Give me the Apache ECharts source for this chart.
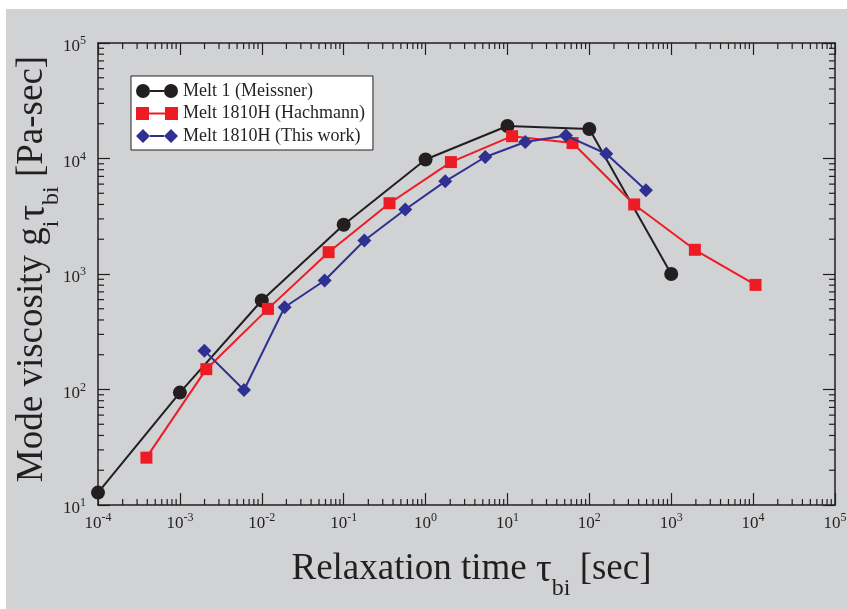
<!DOCTYPE html>
<html>
<head>
<meta charset="utf-8">
<script src="https://cdn.jsdelivr.net/npm/echarts@6/dist/echarts.min.js"></script>
<style>
  html, body { margin: 0; padding: 0; background: #fff; }
  #chart { width: 847px; height: 609px; }
</style>
</head>
<body>
<div id="chart"></div>
<script>
// Melt 1 (Meissner)
const meissnerTau = [1e-4, 1e-3, 1e-2, 1e-1, 1, 10, 100, 1000];
const meissnerG = [12.8, 94, 590, 2670, 9800, 19100, 18000, 1000];

// Melt 1810H (Hachmann)
const hachTau = [3.9e-4, 2.1e-3, 0.0119, 0.0655, 0.363, 2.04, 11.4, 62.4, 353, 1945, 10700];
const hachG = [25.7, 150, 499, 1545, 4100, 9310, 15600, 13600, 4000, 1620, 805];

// Melt 1810H (This work)
const thisTau = [1.99e-3, 6.07e-3, 0.019, 0.0585, 0.179, 0.565, 1.74, 5.36, 16.5, 51.8, 161, 491];
const thisG = [217, 99, 515, 879, 1950, 3620, 6340, 10300, 13900, 15800, 11000, 5300];

const seriesNames = ['Melt 1 (Meissner)', 'Melt 1810H (Hachmann)', 'Melt 1810H (This work)'];

// axis ranges
const xMin = 1e-4, xMax = 1e5;
const yMin = 10, yMax = 1e5;

const serif = 'Liberation Serif';

// minor tick positions 2..9 x 10^k
const minorTicks = function (lo, hi) {
    let out = [];
    for (let e = Math.round(Math.log10(lo)); e < Math.round(Math.log10(hi)); e++) {
        for (let m = 2; m <= 9; m++) out.push(m * Math.pow(10, e));
    }
    return out;
};

const pairUp = function (xs, ys) {
    return xs.map(function (x, i) { return [x, ys[i]]; });
};

const tickLabel = function (v) {
    return '{b|10}{e|' + Math.round(Math.log10(v)) + '}';
};
// superscript raised by padding
const tickRich = {
    b: { fontFamily: serif, fontSize: 17, color: '#231f20', lineHeight: 17, padding: [8, 0, 0, 0] },
    e: { fontFamily: serif, fontSize: 12, color: '#231f20', lineHeight: 12, padding: [0, 0, 4, 0] }
};

const axisBase = {
    type: 'log',
    logBase: 10,
    axisLine: { show: true, onZero: false, lineStyle: { color: '#231f20', width: 1.5 } },
    axisTick: { show: true, inside: true, length: 12, lineStyle: { color: '#231f20', width: 1.2 } },
    splitLine: { show: false },
    minorTick: { show: false }
};

const titleRich = {
    t: { fontFamily: serif, fontSize: 37, color: '#231f20', lineHeight: 40, verticalAlign: 'top' },
    g: { fontFamily: serif, fontSize: 39, color: '#231f20', lineHeight: 40, verticalAlign: 'top' },
    s: { fontFamily: serif, fontSize: 24, color: '#231f20', lineHeight: 24, verticalAlign: 'bottom', padding: [0, 0, -10, 0] }
};

let myChart = echarts.init(document.getElementById('chart'));

const tickStyle = { stroke: '#231f20', lineWidth: 1.2 };

let option = {
    backgroundColor: '#d1d2d4',
    animation: false,
    graphic: {
        elements: [
            { type: 'rect', left: 0, top: 0, shape: { width: 847, height: 9 }, style: { fill: '#fff' }, silent: true },
            { type: 'rect', left: 0, top: 0, shape: { width: 6, height: 609 }, style: { fill: '#fff' }, silent: true }
        ]
    },
    grid: { left: 98, top: 43, width: 737, height: 462, show: false, outerBoundsMode: 'none', containLabel: false },
    legend: {
        orient: 'vertical',
        left: 131,
        top: 76,
        padding: [6, 8, 5, 5],
        itemGap: 4.5,
        itemWidth: 42,
        itemHeight: 14,
        backgroundColor: '#ffffff',
        borderColor: '#231f20',
        borderWidth: 1,
        borderRadius: 0,
        textStyle: { fontFamily: serif, fontSize: 18, lineHeight: 14, color: '#231f20' },
        data: [
            { name: seriesNames[0], icon: 'path://M0,7 a7,7 0 1,0 14,0 a7,7 0 1,0 -14,0 Z M28,7 a7,7 0 1,0 14,0 a7,7 0 1,0 -14,0 Z M14,6 L28,6 L28,8 L14,8 Z' },
            { name: seriesNames[1], icon: 'path://M0,0.5 L13,0.5 L13,13.5 L0,13.5 Z M29,0.5 L42,0.5 L42,13.5 L29,13.5 Z M13,6 L29,6 L29,8 L13,8 Z' },
            { name: seriesNames[2], icon: 'path://M0,7 L7,0 L14,7 L7,14 Z M28,7 L35,0 L42,7 L35,14 Z M14,6 L28,6 L28,8 L14,8 Z' }
        ]
    },
    xAxis: [
        Object.assign({}, axisBase, {
            position: 'bottom',
            min: xMin, max: xMax, splitNumber: 9,
            axisLabel: { show: true, margin: 6, formatter: tickLabel, rich: tickRich },
            name: '{t|Relaxation time }{g|τ}{s|bi}{t| [sec]}',
            nameLocation: 'middle',
            nameGap: 46,
            nameTextStyle: { rich: titleRich, padding: [0, 0, 0, 10] }
        }),
        Object.assign({}, axisBase, {
            position: 'top',
            min: xMin, max: xMax, splitNumber: 9,
            axisLabel: { show: false }
        })
    ],
    yAxis: [
        Object.assign({}, axisBase, {
            position: 'left',
            min: yMin, max: yMax, splitNumber: 4,
            axisLabel: { show: true, margin: 12, formatter: tickLabel, rich: tickRich },
            name: '{t|Mode viscosity g}{s|i}{g|τ}{s|bi}{t| [Pa-sec]}',
            nameLocation: 'middle',
            nameRotate: 90,
            nameGap: 44,
            nameMoveOverlap: false,
            nameTextStyle: { rich: titleRich, padding: [0, 0, 0, 10] }
        }),
        Object.assign({}, axisBase, {
            position: 'right',
            min: yMin, max: yMax, splitNumber: 4,
            axisLabel: { show: false }
        })
    ],
    series: [
        {
            name: 'xMinor',
            type: 'custom',
            silent: true,
            z: 1,
            data: minorTicks(xMin, xMax).map(function (v) { return [v, yMin]; }),
            renderItem: function (params, api) {
                const v = api.value(0);
                const b = api.coord([v, yMin]);
                const t = api.coord([v, yMax]);
                return {
                    type: 'group',
                    children: [
                        { type: 'line', shape: { x1: b[0], y1: b[1], x2: b[0], y2: b[1] - 6 }, style: tickStyle },
                        { type: 'line', shape: { x1: t[0], y1: t[1], x2: t[0], y2: t[1] + 6 }, style: tickStyle }
                    ]
                };
            }
        },
        {
            name: 'yMinor',
            type: 'custom',
            silent: true,
            z: 1,
            data: minorTicks(yMin, yMax).map(function (v) { return [xMin, v]; }),
            renderItem: function (params, api) {
                const v = api.value(1);
                const l = api.coord([xMin, v]);
                const r = api.coord([xMax, v]);
                return {
                    type: 'group',
                    children: [
                        { type: 'line', shape: { x1: l[0], y1: l[1], x2: l[0] + 6, y2: l[1] }, style: tickStyle },
                        { type: 'line', shape: { x1: r[0], y1: r[1], x2: r[0] - 6, y2: r[1] }, style: tickStyle }
                    ]
                };
            }
        },
        {
            name: seriesNames[0],
            type: 'line',
            data: pairUp(meissnerTau, meissnerG),
            symbol: 'circle',
            symbolSize: 14,
            showAllSymbol: true,
            clip: false,
            itemStyle: { color: '#231f20' },
            lineStyle: { color: '#231f20', width: 2 },
            z: 3
        },
        {
            name: seriesNames[1],
            type: 'line',
            data: pairUp(hachTau, hachG),
            symbol: 'rect',
            symbolSize: 12,
            showAllSymbol: true,
            itemStyle: { color: '#ed1c24' },
            lineStyle: { color: '#ed1c24', width: 2 },
            z: 4
        },
        {
            name: seriesNames[2],
            type: 'line',
            data: pairUp(thisTau, thisG),
            symbol: 'diamond',
            symbolSize: 14,
            showAllSymbol: true,
            itemStyle: { color: '#2e3192' },
            lineStyle: { color: '#2e3192', width: 2 },
            z: 5
        }
    ]
};

myChart.setOption(option);
</script>
</body>
</html>
